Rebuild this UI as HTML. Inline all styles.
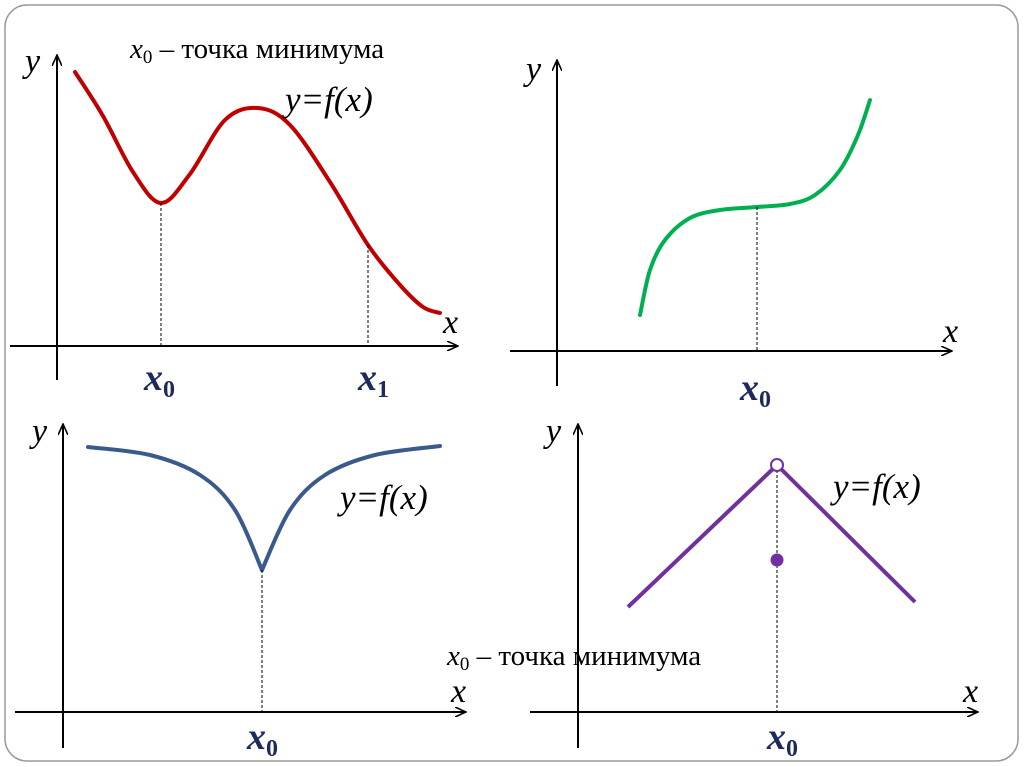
<!DOCTYPE html>
<html><head><meta charset="utf-8"><style>
html,body{margin:0;padding:0;background:#fff;}
svg{display:block;}
text{font-family:"Liberation Serif",serif;}
</style></head><body>
<svg id="s" width="1024" height="767" viewBox="0 0 1024 767">
<defs><marker id="ar" markerWidth="12" markerHeight="10" refX="11" refY="5" orient="auto" markerUnits="userSpaceOnUse"><path d="M0,0 L11,5 L0,10" fill="none" stroke="#000" stroke-width="1.6"/></marker></defs>
<rect x="5" y="5" width="1013" height="756" rx="22" fill="#fff" stroke="#9a9a9a" stroke-width="1.5"/>
<g id="g"></g>
</svg>
<script>
// data in axis units (1 unit = 10px from each panel's origin)
const curve1 = [[1.8,27.4],[4.6,23.0],[7.6,17.4],[10.4,14.3],[13.3,17.2],[16.8,22.6],[20.1,23.8],[23.3,22.1],[27.3,16.4],[31.1,10.1],[34.3,6.1],[36.6,3.9],[38.3,3.3]];
const marks1 = [[10.4,14.3],[31.1,10.1]];
const curve2 = [[8.3,3.6],[9.3,8.1],[10.8,11.1],[13.3,13.3],[16.3,14.1],[20,14.4],[23.3,14.7],[25.8,15.6],[28.3,18.1],[30.1,21.6],[31.3,25.1]];
const marks2 = [[20,14.4]];
const curve3a = [[2.5,26.5],[8.7,25.7],[13.7,23.7],[17.2,20.2],[19.9,14.2]];
const curve3b = [[19.9,14.2],[22.7,20.2],[26.2,23.7],[31.2,25.7],[37.7,26.6]];
const marks3 = [[19.9,14.2]];
const curve4 = [[5,10.5],[19.9,24.7],[33.7,11]];
const openPt4 = [19.9,24.7];
const filledPt4 = [19.9,15.2];

const NS="http://www.w3.org/2000/svg", G=document.getElementById('g');
function el(t,a,txt){const e=document.createElementNS(NS,t);for(const k in a)e.setAttribute(k,a[k]);if(txt!==undefined)e.textContent=txt;G.appendChild(e);return e;}
function mk(ox,oy){return{x:v=>ox+v*10,y:v=>oy-v*10};}
function smooth(pts,s){const p=pts.map(q=>[s.x(q[0]),s.y(q[1])]);let d=`M${p[0][0]},${p[0][1]}`;
 for(let i=0;i<p.length-1;i++){const p0=p[i-1]||p[i],p1=p[i],p2=p[i+1],p3=p[i+2]||p2;
 d+=` C${p1[0]+(p2[0]-p0[0])/6},${p1[1]+(p2[1]-p0[1])/6} ${p2[0]-(p3[0]-p1[0])/6},${p2[1]-(p3[1]-p1[1])/6} ${p2[0]},${p2[1]}`;}return d;}
function axes(n,yx,yTop,yBot,xy,xL,xR){
 let a=el('line',{x1:yx,y1:yBot,x2:yx,y2:yTop,stroke:'#000','stroke-width':2,'marker-end':'url(#ar)'});
 
 
 a=el('line',{x1:xL,y1:xy,x2:xR,y2:xy,stroke:'#000','stroke-width':2,'marker-end':'url(#ar)'});
 
 
}
function dash(s,p,n){const e=el('line',{x1:s.x(p[0]),y1:s.y(p[1]),x2:s.x(p[0]),y2:s.y(0),stroke:'#000','stroke-width':1,'stroke-dasharray':'3,2'});
 
 }
function txt(x,y,t,sz,n,extra){const e=el('text',Object.assign({x:x,y:y,'font-size':sz,'font-style':'italic',fill:'#000'},extra||{}));
 e.innerHTML=t;
 
 return e;}
function xlab(x,y,sub,n){return txt(x,y,`x<tspan font-size="24" dy="7" font-style="normal">${sub}</tspan>`,38,n,{fill:'#1f2a5c','font-weight':'bold'});}
const note='x<tspan font-size="19" dy="5" font-style="normal">0</tspan><tspan dy="-5" font-style="normal"> – точка минимума</tspan>';

// Panel 1
let s=mk(57,346);
axes('p1',57,55,380,346,10,458);
let p=el('path',{d:smooth(curve1,s),fill:'none',stroke:'#c00000','stroke-width':4,'stroke-linecap':'round'});


marks1.forEach((m,i)=>dash(s,m,'p1-'+i));
txt(25,72,'y',34,'y-label-p1');txt(443,333,'x',34,'x-label-p1');
xlab(144,390,'0','x0-label-p1');xlab(358,390,'1','x1-label-p1');
txt(130,58,note,29,'minimum-note-top');
txt(285,111,'y=f(x)',35,'function-label-p1');

// Panel 2
s=mk(557,351);
axes('p2',557,60,386,351,510,952);
p=el('path',{d:smooth(curve2,s),fill:'none',stroke:'#00b050','stroke-width':4,'stroke-linecap':'round'});


marks2.forEach((m,i)=>dash(s,m,'p2-'+i));
txt(526,80,'y',34,'y-label-p2');txt(943,342,'x',34,'x-label-p2');
xlab(740,400,'0','x0-label-p2');

// Panel 3
s=mk(63,712);
axes('p3',63,424,748,712,15,466);
[curve3a,curve3b].forEach((c,i)=>{const q=el('path',{d:smooth(c,s),fill:'none',stroke:'#3a5a8c','stroke-width':4,'stroke-linecap':'round'});
 
 });
marks3.forEach((m,i)=>dash(s,m,'p3-'+i));
txt(32,442,'y',34,'y-label-p3');txt(451,702,'x',34,'x-label-p3');
xlab(247,749,'0','x0-label-p3');
txt(340,509,'y=f(x)',35,'function-label-p3');

// Panel 4
s=mk(578,712);
axes('p4',578,424,748,712,530,978);
p=el('polyline',{points:curve4.map(q=>s.x(q[0])+','+s.y(q[1])).join(' '),fill:'none',stroke:'#7030a0','stroke-width':4});


dash(s,openPt4,'p4-0');
p=el('circle',{cx:s.x(openPt4[0]),cy:s.y(openPt4[1]),r:6,fill:'#fff',stroke:'#7030a0','stroke-width':2});


p=el('circle',{cx:s.x(filledPt4[0]),cy:s.y(filledPt4[1]),r:6.5,fill:'#7030a0'});


txt(546,442,'y',34,'y-label-p4');txt(963,702,'x',34,'x-label-p4');
xlab(767,749,'0','x0-label-p4');
txt(833,498,'y=f(x)',35,'function-label-p4');
txt(447,665,note,29,'minimum-note-bottom');
</script>
</body></html>
